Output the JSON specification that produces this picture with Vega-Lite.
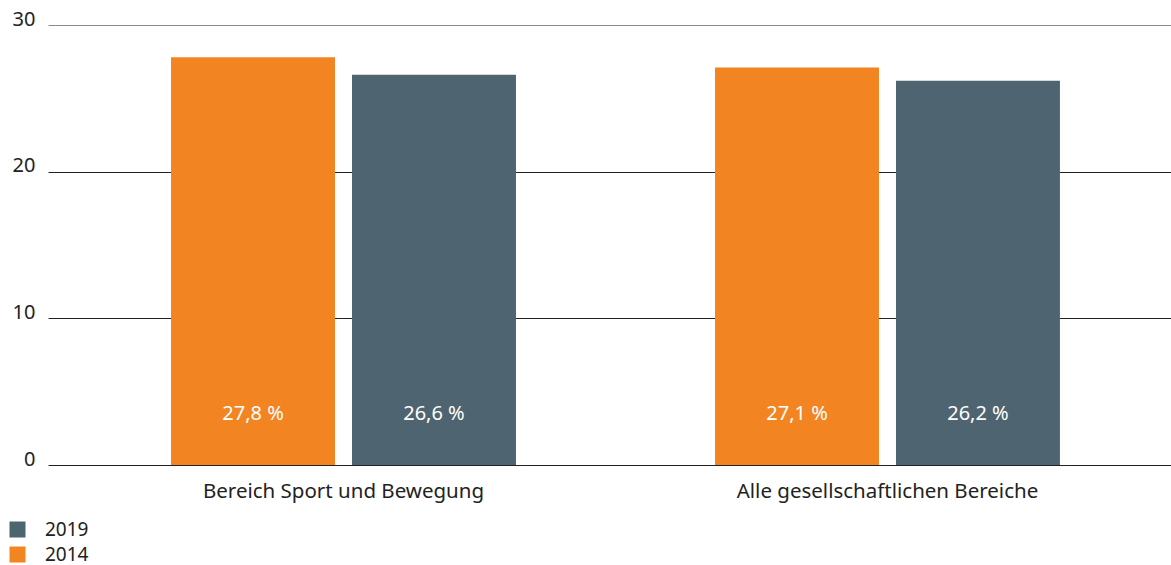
{
  "$schema": "https://vega.github.io/schema/vega-lite/v6.json",
  "width": 1123,
  "height": 440,
  "autosize": {"type": "none"},
  "padding": {"left": 48, "top": 25, "right": 0, "bottom": 100},
  "background": "white",
  "config": {
    "font": "Noto Sans",
    "view": {"stroke": null}
  },
  "data": {
    "values": [
      {"bereich": "Bereich Sport und Bewegung", "jahr": "2014", "wert": 27.8, "label": "27,8 %"},
      {"bereich": "Bereich Sport und Bewegung", "jahr": "2019", "wert": 26.6, "label": "26,6 %"},
      {"bereich": "Alle gesellschaftlichen Bereiche", "jahr": "2014", "wert": 27.1, "label": "27,1 %"},
      {"bereich": "Alle gesellschaftlichen Bereiche", "jahr": "2019", "wert": 26.2, "label": "26,2 %"}
    ]
  },
  "encoding": {
    "x": {
      "field": "bereich",
      "type": "nominal",
      "sort": ["Bereich Sport und Bewegung", "Alle gesellschaftlichen Bereiche"],
      "scale": {"paddingInner": 0, "paddingOuter": 0.0322, "align": 0.671},
      "axis": {
        "title": null,
        "labelAngle": 0,
        "domain": false,
        "ticks": false,
        "labelFontSize": 20.5,
        "labelColor": "#222",
        "labelPadding": 16,
        "labelLimit": 0
      }
    },
    "xOffset": {
      "field": "jahr",
      "type": "nominal",
      "sort": ["2014", "2019"],
      "scale": {"paddingInner": 0.094, "paddingOuter": 0.55}
    }
  },
  "layer": [
    {
      "mark": {"type": "bar"},
      "encoding": {
        "y": {
          "field": "wert",
          "type": "quantitative",
          "scale": {"domain": [0, 30], "nice": false},
          "axis": {
            "title": null,
            "values": [0, 10, 20, 30],
            "domain": false,
            "ticks": false,
            "grid": true,
            "gridColor": {"condition": {"test": "datum.value == 30", "value": "#8a8a8a"}, "value": "#222"},
            "gridOpacity": 1,
            "gridWidth": 1,
            "labelFontSize": 20,
            "labelColor": "#222",
            "labelPadding": 13,
            "labelOffset": -6,
            "labelBaseline": "middle"
          }
        },
        "color": {
          "field": "jahr",
          "type": "nominal",
          "sort": ["2019", "2014"],
          "scale": {"domain": ["2019", "2014"], "range": ["#4e6470", "#f28422"]},
          "legend": {
            "title": null,
            "orient": "none",
            "legendX": -40,
            "legendY": 495,
            "direction": "vertical",
            "symbolType": "square",
            "symbolSize": 256,
            "symbolStrokeWidth": 0,
            "symbolOpacity": 1,
            "labelFontSize": 19,
            "labelColor": "#222",
            "labelOffset": 18,
            "rowPadding": 5
          }
        }
      }
    },
    {
      "mark": {"type": "text", "color": "white", "fontSize": 20, "baseline": "middle"},
      "encoding": {
        "y": {"datum": 3.5, "type": "quantitative"},
        "text": {"field": "label"}
      }
    }
  ]
}
